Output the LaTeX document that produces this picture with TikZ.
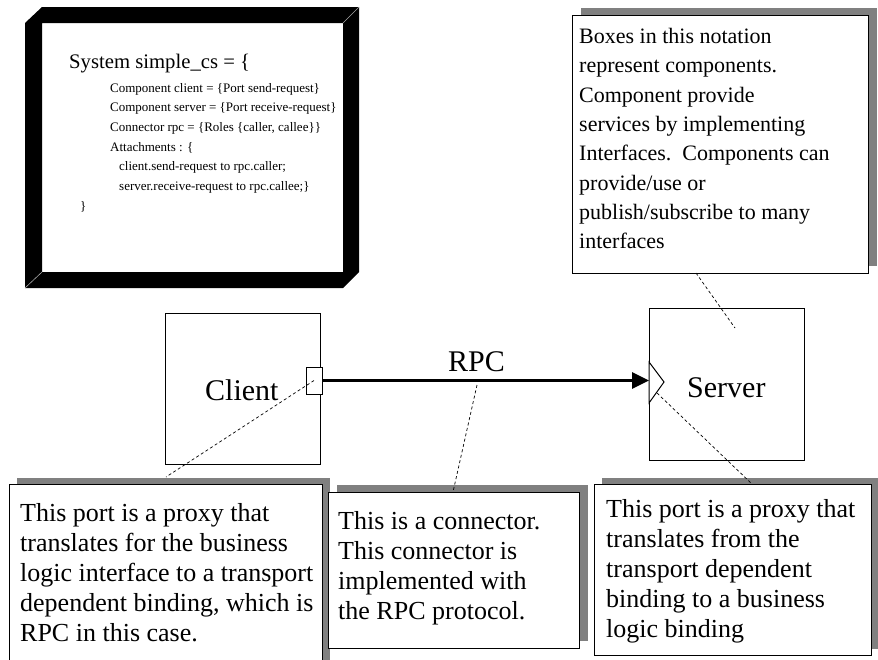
\documentclass[tikz,border=0pt]{standalone}
\usepackage{fontspec}
\setmainfont{Liberation Serif}
\usetikzlibrary{arrows.meta,shadows}

\begin{document}
\begin{tikzpicture}[x=1pt,y=-1pt,
  notebox/.style={draw=black, line width=1pt, fill=white, rectangle, inner sep=0pt,
    anchor=north west,
    drop shadow={shadow xshift=#1, shadow yshift=#1, fill=black!50, opacity=1}},
  notebox/.default=7pt,
  compbox/.style={draw=black, line width=1pt, fill=white, rectangle, inner sep=0pt, anchor=north west},
  notetext/.style={inner sep=0pt, anchor=base west, font=\fontsize{26}{30}\selectfont},
  smallnotetext/.style={inner sep=0pt, anchor=base west, font=\fontsize{22}{29.3}\selectfont},
  codetitle/.style={inner sep=0pt, anchor=base west, font=\fontsize{20.7}{22}\selectfont},
  codeline/.style={inner sep=0pt, anchor=base west, font=\fontsize{13}{15}\selectfont},
  biglabel/.style={inner sep=0pt, anchor=base west, font=\fontsize{30}{34}\selectfont},
  leader/.style={draw=black, line width=0.7pt, dash pattern=on 3pt off 2.5pt},
  rpcline/.style={draw=black, line width=3pt, -{Triangle[length=17pt,width=16pt]}},
]
\useasboundingbox (0,0) rectangle (878,659);
\clip (0,0) rectangle (878,659);

% ---------- ADL listing in a bevelled black frame ----------
\fill[black, even odd rule]
  (25,23) -- (42,7) -- (359,7) -- (359,272) -- (343,288) -- (25,288) -- cycle
  (42,23) rectangle (343,272);
\draw[black!35, line width=0.6pt] (42,272) -- (25,288);
\draw[black!35, line width=0.6pt] (343,23) -- (359,7);

\node[codetitle] (c0) at (69,68)    {System simple\_cs = \{};
\node[codeline]  (c1) at (110,92)   {Component client = \{Port send-request\}};
\node[codeline]  (c2) at (110,111.7){Component server = \{Port receive-request\}};
\node[codeline]  (c3) at (110,131.4){Connector rpc = \{Roles \{caller, callee\}\}};
\node[codeline]  (c4) at (110,151.1){Attachments : \{};
\node[codeline]  (c5) at (119,170.8){client.send-request to rpc.caller;};
\node[codeline]  (c6) at (119,190.5){server.receive-request to rpc.callee;\}};
\node[codeline]  (c7) at (80,210.2) {\}};

% ---------- notes ----------
\node[notebox=8pt, minimum width=296pt, minimum height=258pt] (notecomp) at (572,15) {};
\node[smallnotetext] (notecomptext) at (579,43.5) {\parbox[t]{290pt}{\raggedright
  Boxes in this notation\\
  represent components.\\
  Component provide\\
  services by implementing\\
  Interfaces.\ \ Components can\\
  provide/use or\\
  publish/subscribe to many\\
  interfaces}};

\node[notebox=7pt, minimum width=313pt, minimum height=200pt] (noteclient) at (9,484) {};
\node[notetext] (noteclienttext) at (20,521) {\parbox[t]{310pt}{\raggedright
  This port is a proxy that\\
  translates for the business\\
  logic interface to a transport\\
  dependent binding, which is\\
  RPC in this case.}};

\node[notebox=8pt, minimum width=251pt, minimum height=156pt] (noterpc) at (328,492) {};
\node[notetext] (noterpctext) at (338,529) {\parbox[t]{240pt}{\raggedright
  This is a connector.\\
  This connector is\\
  implemented with\\
  the RPC protocol.}};

\node[notebox=7pt, minimum width=277pt, minimum height=171pt] (noteserver) at (594,484) {};
\node[notetext] (noteservertext) at (606,517) {\parbox[t]{270pt}{\raggedright
  This port is a proxy that\\
  translates from the\\
  transport dependent\\
  binding to a business\\
  logic binding}};

% ---------- components ----------
\node[compbox, minimum width=155pt, minimum height=151pt] (client) at (165,313) {};
\node[compbox, minimum width=155pt, minimum height=152pt] (server) at (649,308) {};
\node[biglabel] (clientlabel) at (205,400) {Client};
\node[biglabel] (serverlabel) at (687,397) {Server};

% client port
\node[draw=black, line width=1pt, fill=white, rectangle, inner sep=0pt,
      minimum width=16pt, minimum height=27pt] (cport) at (314,380.5) {};
% server port
\draw[black, line width=1pt, fill=white] (649,362) -- (664,382) -- (649,403) -- cycle;
\coordinate (sport) at (657,393);

% connector
\draw[rpcline] (cport.east) -- (cport.east -| server.west);
\node[biglabel] (rpclabel) at (448,371) {RPC};
\coordinate (rpcmid) at (477,385);

% ---------- leaders ----------
\coordinate (noteclienttip) at (166,477);
\coordinate (noterpctip) at (453,492);
\coordinate (noteservertip) at (752,484);
\coordinate (notecomptip) at (696,273);
\coordinate (servermark) at (735,328);
\draw[leader] (cport.center) -- (noteclienttip);
\draw[leader] (rpcmid) -- (noterpctip);
\draw[leader] (sport) -- (noteservertip);
\draw[leader] (notecomptip) -- (servermark);
\end{tikzpicture}
\end{document}
